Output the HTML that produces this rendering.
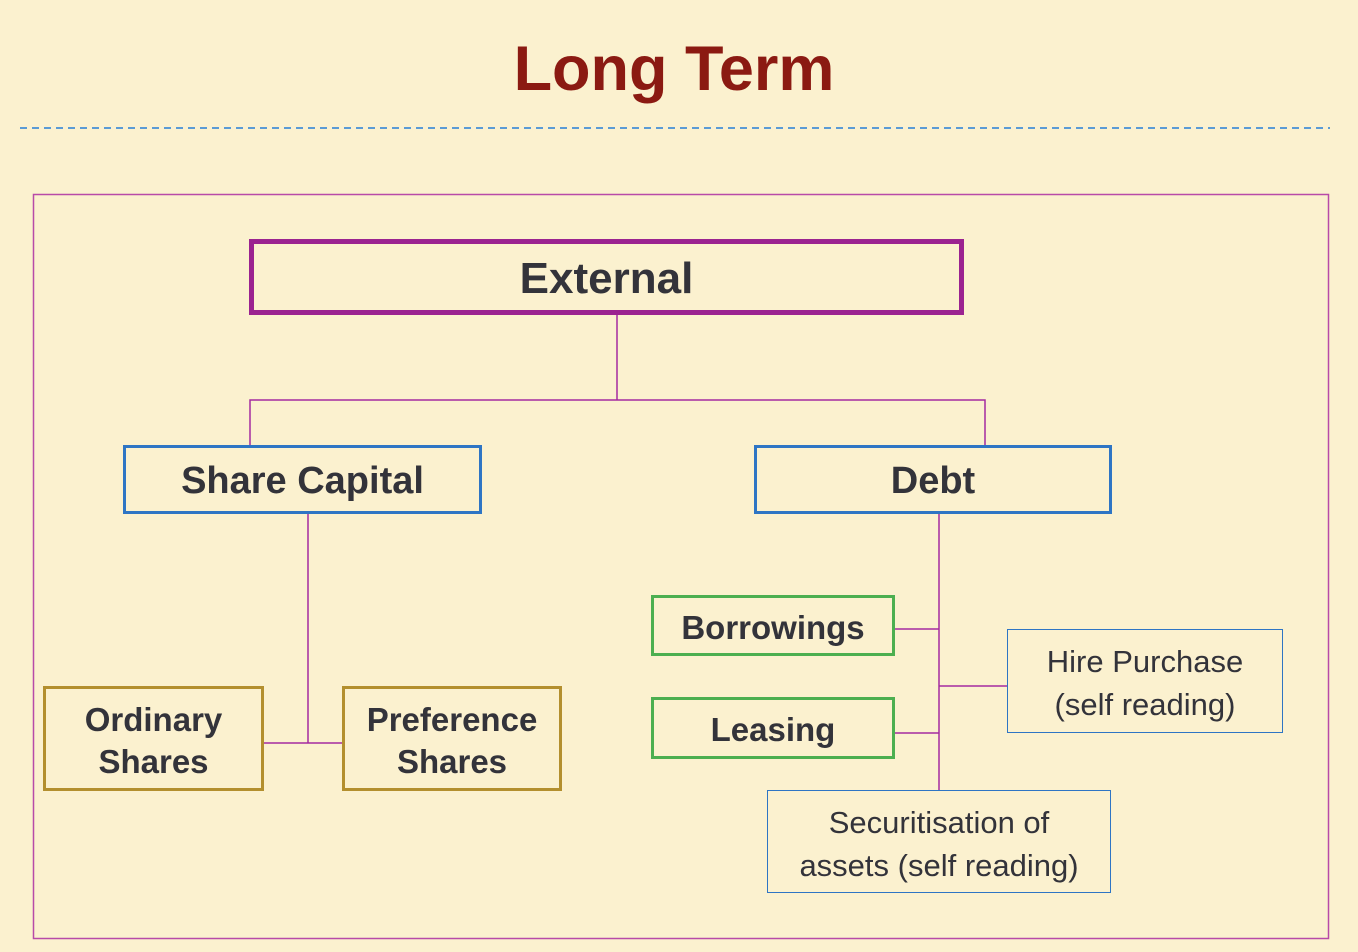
<!DOCTYPE html>
<html><head><meta charset="utf-8"><style>
body{margin:0;width:1358px;height:952px;background:#fbf1cf;position:relative;overflow:hidden;font-family:"Liberation Sans",sans-serif;color:#33333a}
.b{position:absolute;box-sizing:border-box;display:flex;align-items:center;justify-content:center;text-align:center;font-weight:bold;padding-top:4px}
.t{position:absolute;left:-5px;width:1358px;top:33px;text-align:center;font-weight:bold;font-size:63px;color:#8b1a12}
</style></head><body>
<div class="t">Long Term</div>
<svg width="1358" height="952" style="position:absolute;left:0;top:0">
<line x1="20" y1="128" x2="1330" y2="128" stroke="#5b9bd5" stroke-width="2" stroke-dasharray="7,5"/>
<rect x="33.5" y="194.5" width="1295" height="744" fill="none" stroke="#b84aa8" stroke-width="1.5"/>
<g stroke="#a42aa0" stroke-width="1.5" fill="none">
<path d="M617 314V400M250 445V400H985V445"/>
<path d="M308 513V743M263 743H342"/>
<path d="M939 513V790M894 629H939M894 733H939M939 686H1007"/>
</g>
</svg>
<div class="b" style="left:249px;top:239px;width:715px;height:76px;border:5px solid #9b2390;font-size:44px">External</div>
<div class="b" style="left:123px;top:445px;width:359px;height:69px;border:3px solid #2e75c4;font-size:38px">Share Capital</div>
<div class="b" style="left:754px;top:445px;width:358px;height:69px;border:3px solid #2e75c4;font-size:38px">Debt</div>
<div class="b" style="left:43px;top:686px;width:221px;height:105px;border:3px solid #b38f2e;font-size:33px;line-height:42px">Ordinary<br>Shares</div>
<div class="b" style="left:342px;top:686px;width:220px;height:105px;border:3px solid #b38f2e;font-size:33px;line-height:42px">Preference<br>Shares</div>
<div class="b" style="left:651px;top:595px;width:244px;height:61px;border:3px solid #4caf50;font-size:33px">Borrowings</div>
<div class="b" style="left:651px;top:697px;width:244px;height:62px;border:3px solid #4caf50;font-size:33px">Leasing</div>
<div class="b" style="left:1007px;top:629px;width:276px;height:104px;border:1.5px solid #2e75c4;font-size:31px;font-weight:normal;line-height:43px">Hire Purchase<br>(self reading)</div>
<div class="b" style="left:767px;top:790px;width:344px;height:103px;border:1.5px solid #2e75c4;font-size:31px;font-weight:normal;line-height:43px">Securitisation of<br>assets (self reading)</div>
</body></html>
